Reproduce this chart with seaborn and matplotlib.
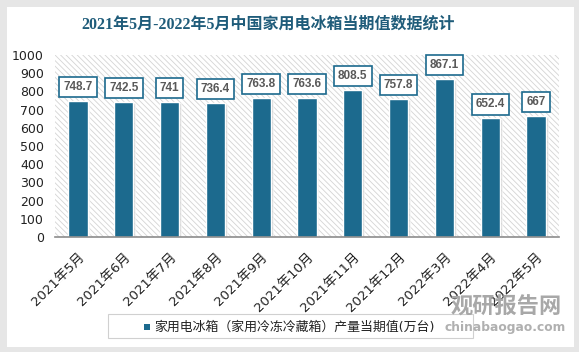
import matplotlib
matplotlib.use('Agg')
import pandas as pd
import seaborn as sns
import matplotlib.pyplot as plt
from matplotlib.patches import Rectangle

# datos
meses = ['2021年5月', '2021年6月', '2021年7月', '2021年8月', '2021年9月', '2021年10月',
         '2021年11月', '2021年12月', '2022年3月', '2022年4月', '2022年5月']
produccion = [748.7, 742.5, 741, 736.4, 763.8, 763.6, 808.5, 757.8, 867.1, 652.4, 667]
etiquetas = ['748.7', '742.5', '741', '736.4', '763.8', '763.6', '808.5', '757.8', '867.1', '652.4', '667']
yticks = [0, 100, 200, 300, 400, 500, 600, 700, 800, 900, 1000]
titulo = '2021年5月-2022年5月中国家用电冰箱当期值数据统计'
serie = '家用电冰箱（家用冷冻冷藏箱）产量当期值(万台)'

df = pd.DataFrame({'mes': meses, 'valor': produccion})

sns.set_theme(style='white')
plt.rcParams['font.family'] = ['DejaVu Sans', 'Noto Sans CJK SC']
plt.rcParams['hatch.linewidth'] = 0.6

azul = '#1C6A8E'

fig = plt.figure(figsize=(5.79, 3.52), dpi=100, facecolor='#E6E6E6')
# tarjeta blanca
fig.patches.append(Rectangle((7 / 579, 5 / 352), 567 / 579, 340 / 352,
                             transform=fig.transFigure, facecolor='white',
                             edgecolor='none', zorder=-10))

ax = fig.add_axes([55 / 579, 115 / 352, 504 / 579, 182 / 352])
ax.set_zorder(2)
ax.set_facecolor('white')
ax.add_patch(Rectangle((0, 0), 1, 1, transform=ax.transAxes, facecolor='white',
                       edgecolor='#D4D4D4', hatch='\\\\\\\\\\\\', lw=0, zorder=0))

# sombra de barras
x = range(len(meses))
ax.bar([i + 0.04 for i in x], [v - 6 for v in produccion], width=0.42,
       color='#BDBDBD', alpha=0.6, zorder=1)
sns.barplot(data=df, x='mes', y='valor', color=azul, width=0.42, saturation=1,
            edgecolor='white', linewidth=1, ax=ax, zorder=2)

for i, (v, t) in enumerate(zip(produccion, etiquetas)):
    ax.annotate(t, (i, v), xytext=(0, 10), textcoords='offset points',
                ha='center', va='center', fontsize=8.5, fontweight='bold', color='#595959',
                family=['Liberation Sans'],
                bbox=dict(boxstyle='square,pad=0.35', facecolor='white', edgecolor=azul, lw=1.2),
                zorder=5)

ax.set_ylim(0, 1000)
ax.set_xlim(-0.5, len(meses) - 0.5)
ax.set_yticks(yticks)
ax.tick_params(axis='y', labelsize=9, pad=8, colors='#222222', length=0)
ax.tick_params(axis='x', labelsize=9.5, colors='#222222', length=0, pad=10)
plt.setp(ax.get_xticklabels(), rotation=45, ha='right', rotation_mode='anchor')
ax.set_xlabel('')
ax.set_ylabel('')
for s in ['top', 'right', 'left']:
    ax.spines[s].set_visible(False)
ax.spines['bottom'].set_color('#8C8C8C')
ax.spines['bottom'].set_linewidth(1.2)

fig.text(268 / 579, 1 - 25 / 352, titulo, ha='center', va='center', fontsize=11.5,
         fontweight='bold', color='#1F5C7A', family=['Liberation Serif', 'Noto Sans CJK SC'])

# leyenda
fig.patches.append(Rectangle((108 / 579, 14 / 352), 365 / 579, 24 / 352,
                             transform=fig.transFigure, facecolor='white',
                             edgecolor='#D0D0D0', lw=0.8, zorder=3))
fig.patches.append(Rectangle((144 / 579, 22 / 352), 6 / 579, 6 / 352,
                             transform=fig.transFigure, facecolor=azul,
                             edgecolor='none', zorder=4))
fig.text(154 / 579, 25 / 352, serie, ha='left', va='center', fontsize=9.3,
         color='#222222', zorder=5)

# marca de agua
fig.text(506 / 579, 1 - 307 / 352, '观研报告网', ha='center', va='center', fontsize=16,
         fontweight='bold', color='#A8A8A8', family=['Noto Sans CJK SC'], zorder=6)
fig.text(505 / 579, 1 - 327 / 352, 'chinabaogao.com', ha='center', va='center', fontsize=8.8,
         fontweight='bold', color='#B0B0B0', zorder=6)

plt.savefig('out.png', dpi=100, facecolor=fig.get_facecolor())
